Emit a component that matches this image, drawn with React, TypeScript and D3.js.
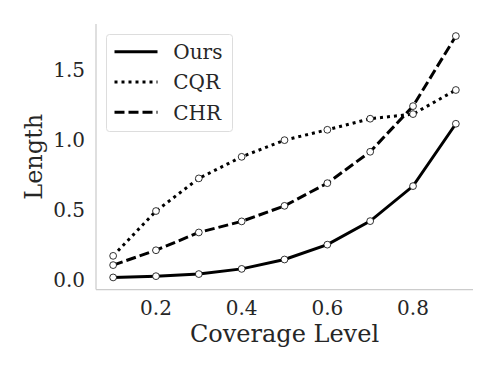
import { useRef, useEffect } from 'react';
import * as d3 from 'd3';

const levels = [0.1, 0.2, 0.3, 0.4, 0.5, 0.6, 0.7, 0.8, 0.9];
const ours = [0.016, 0.025, 0.04, 0.077, 0.144, 0.25, 0.418, 0.668, 1.113];
const cqr = [0.17, 0.49, 0.723, 0.877, 0.996, 1.07, 1.149, 1.182, 1.354];
const chr = [0.104, 0.21, 0.337, 0.416, 0.527, 0.689, 0.913, 1.239, 1.739];
const seriesNames = ['Ours', 'CQR', 'CHR'];
const xTicks = [0.2, 0.4, 0.6, 0.8];
const yTicks = [0.0, 0.5, 1.0, 1.5];

const FONT = "'DejaVu Serif', serif";
const TEXT = '#262626';

export default function App() {
  const svgRef = useRef<SVGSVGElement>(null);

  useEffect(() => {
    if (!svgRef.current) return;
    const width = 498;
    const height = 374;
    const margin = { top: 24, right: 25, bottom: 84.5, left: 96 };

    const svg = d3.select(svgRef.current);
    svg.selectAll('*').remove();
    svg.attr('width', width).attr('height', height);

    // matplotlib-style auto margins (5%)
    const allY = [...ours, ...cqr, ...chr];
    const yMin = d3.min(allY)!;
    const yMax = d3.max(allY)!;
    const yPad = (yMax - yMin) * 0.05;
    const xPad = (0.9 - 0.1) * 0.05;

    const x = d3.scaleLinear()
      .domain([0.1 - xPad, 0.9 + xPad])
      .range([margin.left, width - margin.right]);

    const y = d3.scaleLinear()
      .domain([yMin - yPad, yMax + yPad])
      .range([height - margin.bottom, margin.top]);

    // Spines
    svg.append('line')
      .attr('x1', margin.left).attr('x2', margin.left)
      .attr('y1', margin.top).attr('y2', height - margin.bottom)
      .attr('stroke', '#cccccc').attr('stroke-width', 1.25);
    svg.append('line')
      .attr('x1', margin.left).attr('x2', width - margin.right)
      .attr('y1', height - margin.bottom).attr('y2', height - margin.bottom)
      .attr('stroke', '#cccccc').attr('stroke-width', 1.25);

    // Tick labels
    svg.append('g')
      .selectAll('text')
      .data(xTicks)
      .join('text')
      .attr('x', d => x(d))
      .attr('y', height - margin.bottom + 25.5)
      .attr('text-anchor', 'middle')
      .attr('font-family', FONT)
      .attr('font-size', 20)
      .attr('fill', TEXT)
      .text(d => d3.format('.1f')(d));

    svg.append('g')
      .selectAll('text')
      .data(yTicks)
      .join('text')
      .attr('x', margin.left - 11)
      .attr('y', d => y(d))
      .attr('dy', '0.36em')
      .attr('text-anchor', 'end')
      .attr('font-family', FONT)
      .attr('font-size', 20)
      .attr('fill', TEXT)
      .text(d => d3.format('.1f')(d));

    // Axis labels
    svg.append('text')
      .attr('x', (margin.left + width - margin.right) / 2)
      .attr('y', 342)
      .attr('text-anchor', 'middle')
      .attr('font-family', FONT)
      .attr('font-size', 24)
      .attr('fill', TEXT)
      .text('Coverage Level');

    svg.append('text')
      .attr('transform', `translate(42,${(margin.top + height - margin.bottom) / 2}) rotate(-90)`)
      .attr('text-anchor', 'middle')
      .attr('font-family', FONT)
      .attr('font-size', 24)
      .attr('fill', TEXT)
      .text('Length');

    const dashes = ['none', '3,4', '10,4'];
    const series = [ours, cqr, chr];

    const line = d3.line<number>()
      .x((_, i) => x(levels[i]))
      .y(d => y(d));

    // draw order: Ours, CQR, CHR
    series.forEach((vals, k) => {
      svg.append('path')
        .datum(vals)
        .attr('d', line)
        .attr('fill', 'none')
        .attr('stroke', '#000')
        .attr('stroke-width', 3)
        .attr('stroke-dasharray', dashes[k]);
    });

    series.forEach(vals => {
      svg.append('g')
        .selectAll('circle')
        .data(vals)
        .join('circle')
        .attr('cx', (_, i) => x(levels[i]))
        .attr('cy', d => y(d))
        .attr('r', 3.4)
        .attr('fill', '#fff')
        .attr('stroke', '#000')
        .attr('stroke-width', 0.8);
    });

    // Legend
    const lg = svg.append('g');
    lg.append('rect')
      .attr('x', 106.5).attr('y', 34.5)
      .attr('width', 126).attr('height', 97)
      .attr('rx', 3)
      .attr('fill', '#fff')
      .attr('fill-opacity', 0.8)
      .attr('stroke', '#dddddd')
      .attr('stroke-width', 1);

    seriesNames.forEach((name, k) => {
      const cy = 51.7 + k * 30.3;
      lg.append('line')
        .attr('x1', 114.5).attr('x2', 157.5)
        .attr('y1', cy).attr('y2', cy)
        .attr('stroke', '#000')
        .attr('stroke-width', 3)
        .attr('stroke-dasharray', dashes[k]);
      lg.append('text')
        .attr('x', 173.3)
        .attr('y', cy)
        .attr('dy', '0.36em')
        .attr('font-family', FONT)
        .attr('font-size', 20)
        .attr('fill', TEXT)
        .text(name);
    });
  }, []);

  return <svg ref={svgRef} style={{ position: 'absolute', left: 0, top: 0 }} />;
}
